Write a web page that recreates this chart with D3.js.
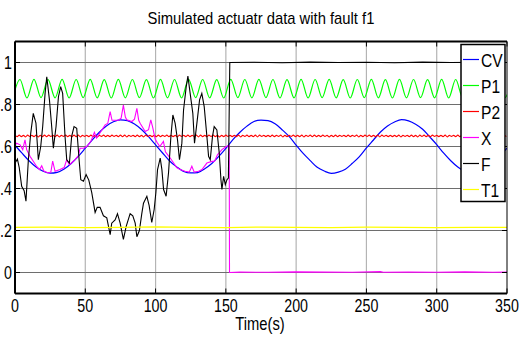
<!DOCTYPE html>
<html>
<head>
<meta charset="utf-8">
<script src="https://cdn.jsdelivr.net/npm/d3@7"></script>
<style>
  body { margin: 0; background: #fff; }
  svg { display: block; }
</style>
</head>
<body>
<div id="chart"></div>
<script>
// chart text
const title = 'Simulated actuatr data with fault f1';
const xLabel = 'Time(s)';
const xTicks = [0, 50, 100, 150, 200, 250, 300, 350];
const yTicks = [0, 0.2, 0.4, 0.6, 0.8, 1];
const yTickLabels = ['0', '.2', '.4', '.6', '.8', '1'];
const seriesNames = ['CV', 'P1', 'P2', 'X', 'F', 'T1'];
const seriesColors = ['#0000ff', '#00ff00', '#ff0000', '#ff00ff', '#000000', '#ffff00'];

// CV: one value every 5 s from t = 0
const cvStart = 0, cvStep = 5;
const cvVal = [
  .606, .568, .532, .502, .482, .473, .477, .493, .519, .553, .592, .632, .668, .698, .718, .727, .723, .707, .681, .647,
  .608, .569, .531, .503, .481, .474, .476, .494, .519, .553, .591, .633, .668, .697, .719, .726, .723, .708, .680, .648,
  .607, .567, .533, .501, .483, .472, .478, .492, .520, .552, .593, .631, .669, .698, .717, .728, .722, .706, .682, .646,
  .609, .568, .532, .502, .481, .474, .477, .493, .518, .554, .592
];

// P1: peaks and troughs every 5 s from t = -1.5
const p1Start = -1.5, p1Step = 5;
const p1Val = [
  .832, .919, .831, .920, .833, .918, .832, .920, .831, .919, .833, .920,
  .832, .918, .831, .920, .832, .919, .833, .918, .831, .920, .832, .919,
  .831, .920, .833, .919, .832, .918, .831, .920, .833, .919, .832, .920,
  .833, .919, .831, .918, .832, .920, .831, .919, .833, .920, .832, .918,
  .831, .919, .833, .920, .832, .918, .831, .920, .832, .919, .833, .918,
  .832, .920, .831, .919, .833, .918, .832, .920, .831, .919, .832, .920
];

// P2: small ripple, one value every 1.5 s from t = 0
const p2Start = 0, p2Step = 1.5;
const p2Val = [
  .653, .647, .654, .647, .653, .646, .654, .648, .653, .647, .654, .646, .653, .647, .654, .647, .654, .648,
  .653, .647, .654, .646, .653, .648, .654, .647, .653, .647, .654, .647, .654, .646, .653, .648, .653, .647,
  .654, .647, .653, .646, .653, .648, .654, .647, .653, .647, .654, .648, .653, .647, .654, .647, .654, .646,
  .653, .648, .653, .647, .654, .647, .653, .646, .654, .648, .653, .647, .653, .647, .654, .647, .653, .648,
  .654, .647, .653, .647, .653, .646, .654, .648, .653, .647, .654, .647, .653, .648, .654, .646, .654, .647,
  .653, .647, .654, .648, .654, .647, .653, .646, .653, .647, .654, .648, .653, .647, .653, .647, .654, .646,
  .653, .648, .654, .647, .653, .647, .654, .646, .654, .648, .653, .647, .653, .647, .654, .647, .653, .648,
  .654, .646, .653, .647, .653, .648, .654, .647, .653, .647, .654, .646, .653, .648, .654, .647, .654, .647,
  .653, .647, .654, .648, .653, .646, .653, .647, .654, .647, .653, .648, .653, .647, .654, .647, .653, .648,
  .654, .646, .653, .647, .654, .648, .654, .647, .653, .647, .654, .646, .654, .648, .653, .647, .653, .647,
  .653, .647, .654, .646, .653, .648, .653, .647, .654, .647, .653, .646, .654, .648, .654, .647, .653, .647,
  .654, .648, .653, .647, .653, .647, .654, .646, .653, .648, .653, .647, .654, .647, .654, .647, .653, .648,
  .653, .646, .654, .647, .653, .648, .653, .647, .654, .647, .653, .646, .654, .648, .654, .647, .653, .647
];

// X: irregular samples
const xTime = [
  0, 1.2, 3.6, 5.5, 7.1, 8.3, 10.7, 13, 15.4, 17.5, 19, 20.5, 23.7, 25.5, 26.8, 28.5, 32, 35, 36.8, 38.7,
  42.7, 45, 46.3, 48.7, 51, 54, 56.5, 58, 61, 64.1, 66, 67.7, 69, 73.6, 75.5, 77.1, 78.5, 79.5, 83.1, 85,
  86.7, 88, 89, 92.6, 95, 96.6, 98, 99.7, 101, 103, 105.6, 107, 110.4, 113, 115, 117.5, 121, 124, 125.8, 127.5,
  130.6, 133, 136.5, 140.1, 142, 144, 147.2, 150.3, 152.4, 152.6, 160, 180, 200, 220, 240, 260, 262, 280, 300, 320,
  340, 350
];
const xVal = [
  .605, .616, .608, .585, .632, .585, .553, .530, .505, .490, .508, .483, .474, .478, .530, .482, .490, .500, .537, .513,
  .537, .555, .592, .592, .600, .625, .668, .640, .670, .703, .710, .766, .725, .725, .735, .797, .740, .727, .719, .730,
  .782, .725, .711, .671, .680, .727, .690, .635, .620, .600, .624, .575, .545, .520, .500, .490, .482, .478, .506, .478,
  .482, .490, .521, .529, .530, .560, .585, .600, .605, .000, .002, .001, .003, .002, .001, .004, .001, .002, .001, .003,
  .001, .002
];

// F: irregular samples
const fTime = [
  0, 1.7, 3, 4.75, 6.5, 7.8, 9.5, 11.2, 13, 14.9, 16.6, 18.3, 19.7, 21.4, 22.6, 24.5, 26.1, 27.3, 29.2, 30.9,
  32.5, 33.9, 35.6, 36.8, 38.7, 40.3, 42, 43.9, 45.6, 46.8, 48.7, 50.6, 52.5, 54.6, 57, 58.5, 60.5, 62.9, 65.3, 67.7,
  68.8, 71.2, 72.9, 74.8, 77.1, 79.1, 81.9, 83.8, 85.5, 86.7, 88.5, 90.2, 91.4, 93.8, 95.4, 97.3, 99, 100.2, 101.4, 103.3,
  104.5, 105.7, 107.5, 109.2, 110.9, 112.3, 113.9, 115.6, 117, 118.7, 119.9, 121.8, 123, 124.6, 126.5, 127.7, 129.4, 131.3, 132.9, 134.6,
  136.5, 137.7, 138.9, 140.5, 141.7, 143.6, 145.3, 146.5, 147.2, 148.4, 149.6, 150.8, 151.8, 152.8, 170, 190, 210, 230, 250, 270,
  290, 310, 330, 350
];
const fVal = [
  .520, .540, .500, .410, .390, .340, .537, .664, .758, .711, .537, .600, .695, .853, .932, .822, .695, .592, .695, .837,
  .885, .853, .648, .537, .521, .648, .695, .687, .537, .442, .435, .466, .440, .380, .286, .310, .310, .270, .260, .180,
  .235, .250, .280, .235, .158, .220, .280, .270, .235, .170, .200, .280, .330, .363, .320, .238, .300, .380, .490, .545,
  .490, .395, .363, .474, .648, .750, .711, .632, .537, .616, .774, .885, .935, .853, .758, .616, .711, .822, .853, .790,
  .648, .553, .537, .648, .695, .679, .569, .442, .395, .458, .418, .442, .450, 1.000, 1.001, .999, 1.002, 1.000, 1.001, .999,
  1.002, 1.000, 1.001, 1.000
];

// T1: one value every 25 s from t = 0
const t1Start = 0, t1Step = 25;
const t1Val = [.215, .216, .214, .215, .217, .215, .214, .216, .215, .214, .216, .215, .214, .215, .215];

const W = 521, H = 343;
const plotL = 15, plotR = 507, plotT = 41.5, plotB = 293.5;
const font = '"Liberation Sans", Arial, sans-serif';

const svg = d3.select('#chart').append('svg')
  .attr('width', W)
  .attr('height', H)
  .style('font-family', font);

svg.append('rect').attr('width', W).attr('height', H).attr('fill', '#fff');

const x = d3.scaleLinear().domain([0, 350]).range([plotL, plotR]);
const y = d3.scaleLinear().domain([-0.1, 1.1]).range([plotB, plotT]);

// narrow text: the original uses a condensed face, so squeeze horizontally
function label(parent, tx, ty, str, size, anchor, sx) {
  return parent.append('text')
    .attr('transform', `translate(${tx},${ty}) scale(${sx},1)`)
    .attr('text-anchor', anchor)
    .attr('font-size', size)
    .text(str);
}

// grid
svg.append('g').selectAll('line').data(xTicks.slice(1, -1)).join('line')
  .attr('x1', d => x(d)).attr('x2', d => x(d))
  .attr('y1', plotT).attr('y2', plotB)
  .attr('stroke', '#b4b4b4').attr('stroke-width', 1.2);
svg.append('g').selectAll('line').data(yTicks).join('line')
  .attr('x1', plotL).attr('x2', plotR)
  .attr('y1', d => y(d)).attr('y2', d => y(d))
  .attr('stroke', '#6e6e6e').attr('stroke-width', 1);

// series
svg.append('clipPath').attr('id', 'plot-clip')
  .append('rect').attr('x', plotL).attr('y', plotT).attr('width', plotR - plotL).attr('height', plotB - plotT);

const regular = (start, step, vals) => vals.map((v, i) => [start + i * step, v]);
const paired = (ts, vals) => ts.map((t, i) => [t, vals[i]]);

const series = [
  { data: regular(cvStart, cvStep, cvVal), curve: d3.curveMonotoneX, w: 1.2 },
  { data: regular(p1Start, p1Step, p1Val), curve: d3.curveMonotoneX, w: 1.2 },
  { data: regular(p2Start, p2Step, p2Val), curve: d3.curveMonotoneX, w: 1.1 },
  { data: paired(xTime, xVal), curve: d3.curveLinear, w: 1.1 },
  { data: paired(fTime, fVal), curve: d3.curveLinear, w: 1.1 },
  { data: regular(t1Start, t1Step, t1Val), curve: d3.curveLinear, w: 1.2 }
];

const plot = svg.append('g').attr('clip-path', 'url(#plot-clip)');
series.forEach((s, i) => {
  plot.append('path')
    .datum(s.data)
    .attr('fill', 'none')
    .attr('stroke', seriesColors[i])
    .attr('stroke-width', s.w)
    .attr('d', d3.line().x(d => x(d[0])).y(d => y(d[1])).curve(s.curve));
});

// inner tick marks
const tickLen = 5;
const ticks = svg.append('g').attr('stroke', '#000').attr('stroke-width', 1);
xTicks.forEach(t => {
  ticks.append('line').attr('x1', x(t)).attr('x2', x(t)).attr('y1', plotT).attr('y2', plotT + tickLen);
  ticks.append('line').attr('x1', x(t)).attr('x2', x(t)).attr('y1', plotB).attr('y2', plotB - tickLen);
});
yTicks.forEach(t => {
  ticks.append('line').attr('x1', plotL).attr('x2', plotL + tickLen).attr('y1', y(t)).attr('y2', y(t));
  ticks.append('line').attr('x1', plotR).attr('x2', plotR - tickLen).attr('y1', y(t)).attr('y2', y(t));
});

// frame
const frame = svg.append('g').attr('stroke', '#000');
frame.append('line').attr('x1', plotL).attr('x2', plotR).attr('y1', plotT).attr('y2', plotT).attr('stroke-width', 2);
frame.append('line').attr('x1', plotL).attr('x2', plotR).attr('y1', plotB).attr('y2', plotB).attr('stroke-width', 2);
frame.append('line').attr('x1', plotL).attr('x2', plotL).attr('y1', plotT).attr('y2', plotB).attr('stroke-width', 2);
frame.append('line').attr('x1', plotR).attr('x2', plotR).attr('y1', plotT).attr('y2', plotB).attr('stroke-width', 1);

// tick labels
const yAxisG = svg.append('g');
yTicks.forEach((t, i) => label(yAxisG, 12, y(t) + 6.5, yTickLabels[i], 19, 'end', 0.75));
const xAxisG = svg.append('g');
xTicks.forEach(t => label(xAxisG, x(t), 312, String(t), 19, 'middle', 0.75));

label(svg, 260, 330, xLabel, 18, 'middle', 0.82);
label(svg, 261, 24, title, 17, 'middle', 0.87);

// legend
const lg = svg.append('g');
lg.append('rect')
  .attr('x', 461).attr('y', 44.5).attr('width', 44).attr('height', 157)
  .attr('fill', '#fff').attr('stroke', '#000').attr('stroke-width', 1.5);
seriesNames.forEach((name, i) => {
  const ly = 59.5 + i * 26;
  lg.append('line')
    .attr('x1', 463).attr('x2', 479).attr('y1', ly).attr('y2', ly)
    .attr('stroke', seriesColors[i]).attr('stroke-width', 1.2);
  label(lg, 481, ly + 7, name, 19, 'start', 0.82);
});
</script>
</body>
</html>
